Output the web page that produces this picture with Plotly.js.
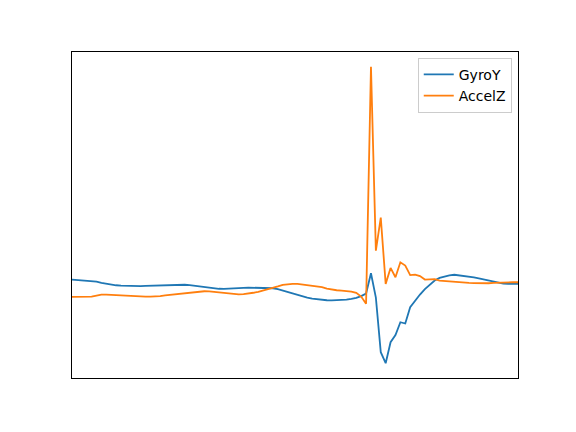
<!DOCTYPE html>
<html>
<head>
<meta charset="utf-8">
<script src="https://cdn.plot.ly/plotly-3.0.1.min.js"></script>
<style>html,body{margin:0;padding:0;background:#fff;}#chart{width:576px;height:432px;}</style>
</head>
<body>
<div id="chart"></div>
<script>
// sample index (time steps)
const sampleIndex = Array.from({length: 92}, (_, i) => i);

const gyroY = [
  1.10, 1.07, 1.03, 1.00, 0.95, 0.90, 0.77, 0.67, 0.60, 0.53,
  0.50, 0.47, 0.45, 0.45, 0.45, 0.47, 0.48, 0.50, 0.53, 0.55,
  0.58, 0.60, 0.60, 0.58, 0.55, 0.48, 0.40, 0.32, 0.25, 0.22,
  0.18, 0.17, 0.18, 0.22, 0.25, 0.27, 0.30, 0.30, 0.30, 0.30,
  0.27, 0.23, 0.15, 0.00, -0.15, -0.30, -0.45, -0.58, -0.70, -0.80,
  -0.88, -0.93, -0.97, -0.98, -0.97, -0.93, -0.90, -0.83, -0.73, -0.55,
  -0.30, 1.73, -0.70, -6.17, -7.27, -5.17, -4.45, -3.17, -3.30, -1.67,
  -1.00, -0.40, 0.15, 0.60, 1.00, 1.27, 1.43, 1.53, 1.58, 1.53,
  1.47, 1.40, 1.32, 1.23, 1.13, 1.03, 0.90, 0.77, 0.70, 0.67,
  0.67, 0.67
];

const accelZ = [
  -0.63, -0.63, -0.63, -0.62, -0.60, -0.50, -0.40, -0.40, -0.43, -0.45,
  -0.46, -0.47, -0.55, -0.60, -0.60, -0.60, -0.60, -0.60, -0.55, -0.48,
  -0.42, -0.36, -0.30, -0.25, -0.20, -0.15, -0.10, -0.07, -0.08, -0.13,
  -0.20, -0.28, -0.33, -0.37, -0.38, -0.35, -0.30, -0.22, -0.12, 0.00,
  0.13, 0.27, 0.42, 0.57, 0.64, 0.67, 0.67, 0.60, 0.53, 0.48,
  0.42, 0.35, 0.20, 0.10, 0.03, 0.00, -0.05, -0.10, -0.23, -0.60,
  -1.33, 22.40, 4.00, 7.30, 0.67, 2.27, 1.33, 2.83, 2.50, 1.55,
  1.60, 1.45, 1.10, 1.12, 1.15, 1.00, 0.95, 0.90, 0.87, 0.83,
  0.80, 0.77, 0.75, 0.73, 0.70, 0.73, 0.77, 0.80, 0.82, 0.83,
  0.83, 0.83
];

const seriesNames = ["GyroY", "AccelZ"];
const seriesColors = ["#1f77b4", "#ff7f0e"];

const all = gyroY.concat(accelZ);
const ymin = Math.min(...all), ymax = Math.max(...all);
const pad = 0.05 * (ymax - ymin);

const traces = [gyroY, accelZ].map((ys, k) => ({
  x: sampleIndex, y: ys, type: "scatter", mode: "lines",
  name: seriesNames[k],
  line: {color: seriesColors[k], width: 1.8}
}));

const axisCommon = {
  showticklabels: false, ticks: "", showgrid: false, zeroline: false,
  showline: true, linecolor: "#000", linewidth: 1.1, mirror: true
};

const layout = {
  width: 576, height: 432,
  margin: {l: 72, r: 58, t: 52, b: 54},
  paper_bgcolor: "#fff", plot_bgcolor: "#fff",
  font: {family: "DejaVu Sans", size: 14, color: "#000"},
  showlegend: true,
  legend: {
    x: 0.986, xanchor: "right", y: 0.982, yanchor: "top",
    bgcolor: "rgba(255,255,255,0.8)", bordercolor: "#cccccc", borderwidth: 1,
    font: {family: "DejaVu Sans", size: 14, color: "#000"}
  },
  xaxis: Object.assign({range: [sampleIndex[0], sampleIndex[sampleIndex.length - 1]]}, axisCommon),
  yaxis: Object.assign({range: [ymin - pad, ymax + pad]}, axisCommon)
};

Plotly.newPlot("chart", traces, layout, {staticPlot: true, displayModeBar: false});
</script>
</body>
</html>
